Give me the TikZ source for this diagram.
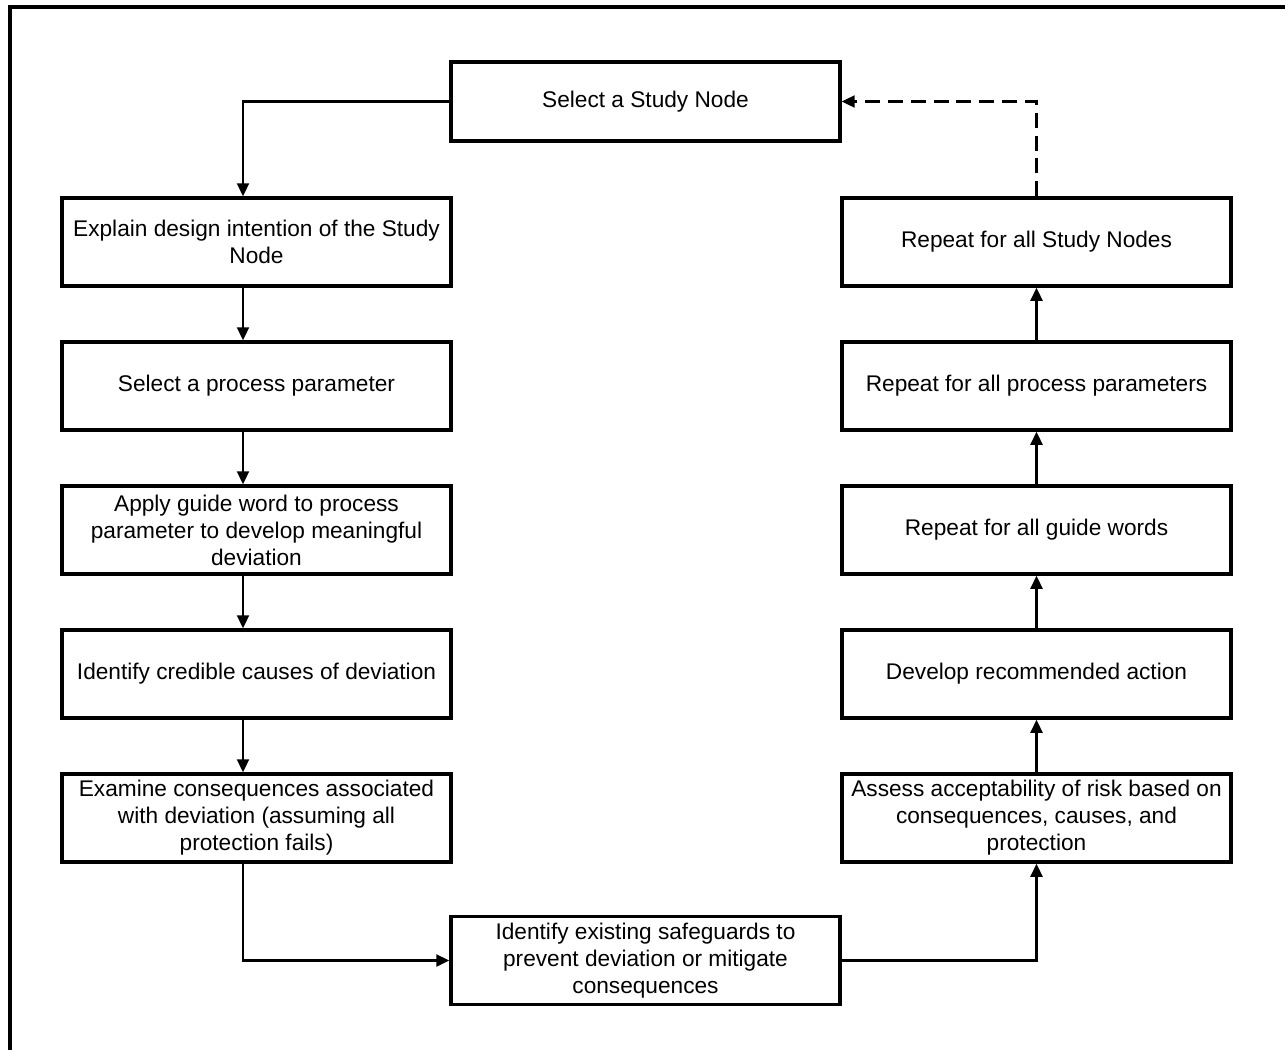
\documentclass[tikz,border=0pt]{standalone}
\usepackage{fontspec}
\setmainfont{Liberation Sans}
\usetikzlibrary{arrows.meta}

\begin{document}
\begin{tikzpicture}[x=0.02cm,y=-0.02cm,
  step box/.style={
    draw,
    line width=2pt,
    minimum width=7.78cm,
    minimum height=1.76cm,
    inner sep=2pt,
    align=center,
    font=\fontsize{12.9pt}{15.4pt}\selectfont,
  },
  flow/.style={line width=1.3pt, -{Triangle[length=0.26cm,width=0.24cm]}},
  back flow/.style={flow, dash pattern=on 8.5pt off 4.5pt},
  ]
  \useasboundingbox (0,0) rectangle (1285,1049);
  \draw[line width=2pt] (1300,7) -- (10,7) -- (10,1060);

  \node[step box, minimum height=1.58cm] (study) at (645.5,101.5) {Select a Study Node};
  % left column
  \node[step box] (intent) at (256.5,242) {Explain design intention of the Study\\Node};
  \node[step box] (param) at (256.5,386) {Select a process parameter};
  \node[step box] (guide) at (256.5,530) {Apply guide word to process\\parameter to develop meaningful\\deviation};
  \node[step box] (cause) at (256.5,674) {Identify credible causes of deviation};
  \node[step box] (conseq) at (256.5,818) {Examine consequences associated\\with deviation (assuming all\\protection fails)};
  % right column
  \node[step box] (allnodes) at (1036.5,242) {Repeat for all Study Nodes};
  \node[step box] (allparams) at (1036.5,386) {Repeat for all process parameters};
  \node[step box] (allwords) at (1036.5,530) {Repeat for all guide words};
  \node[step box] (action) at (1036.5,674) {Develop recommended action};
  \node[step box] (assess) at (1036.5,818) {Assess acceptability of risk based on\\consequences, causes, and\\protection};
  \node[step box] (safe) at (645.5,960.5) {Identify existing safeguards to\\prevent deviation or mitigate\\consequences};

  \draw[flow] (study.west) -| ([xshift=-0.27cm]intent.north);
  \foreach \a/\b in {intent/param, param/guide, guide/cause, cause/conseq}
    \draw[flow] ([xshift=-0.27cm]\a.south) -- ([xshift=-0.27cm]\b.north);
  \draw[flow] ([xshift=-0.27cm]conseq.south) |- (safe.west);
  \draw[flow] (safe.east) -| (assess.south);
  \foreach \a/\b in {assess/action, action/allwords, allwords/allparams, allparams/allnodes}
    \draw[flow] (\a.north) -- (\b.south);
  \draw[back flow] (allnodes.north) |- (study.east);
\end{tikzpicture}
\end{document}
